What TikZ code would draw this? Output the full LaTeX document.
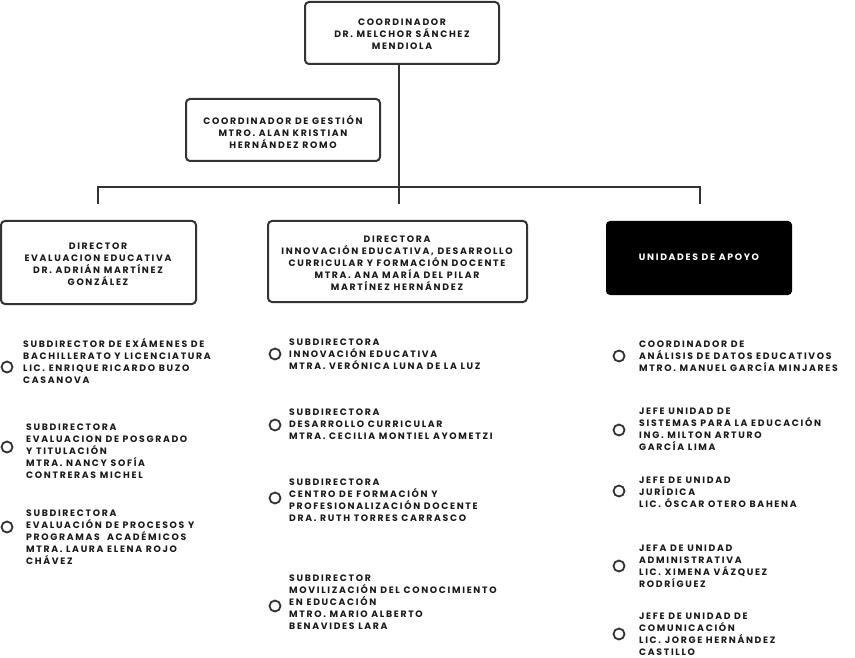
\documentclass[tikz,border=0pt]{standalone}
\usepackage{fontspec}
\setmainfont{Poppins}[LetterSpace=18]
\begin{document}
\begin{tikzpicture}[x=1pt,y=-1pt,
  box/.style={draw=black!80,line width=2pt,rounded corners=4pt},
  txt/.style={font=\bfseries\fontsize{9.3}{12}\selectfont,align=center,text=black!90},
  item/.style={font=\bfseries\fontsize{9.3}{12}\selectfont,align=left,anchor=north west,inner sep=0pt,text=black!90},
  dot/.style={draw=black!80,line width=1.8pt,circle,minimum size=11pt,inner sep=0pt},
  ln/.style={draw=black!80,line width=2pt}]
\useasboundingbox (0,0) rectangle (855,658);
\draw[box] (305,2) rectangle (499,64);
\node[txt] (top) at (402,34) {COORDINADOR\\DR. MELCHOR SÁNCHEZ\\MENDIOLA};
\draw[box] (186,99) rectangle (380,161);
\node[txt] (ges) at (283,132) {COORDINADOR DE GESTIÓN\\MTRO. ALAN KRISTIAN\\HERNÁNDEZ ROMO};
\draw[box] (1,221) rectangle (196,304);
\node[txt] (d1) at (98,264) {DIRECTOR\\EVALUACION EDUCATIVA\\DR. ADRIÁN MARTÍNEZ\\GONZÁLEZ};
\draw[box] (268,221) rectangle (527,302);
\node[txt] (d2) at (397,263) {DIRECTORA\\INNOVACIÓN EDUCATIVA, DESARROLLO\\CURRICULAR Y FORMACIÓN DOCENTE\\MTRA. ANA MARÍA DEL PILAR\\MARTÍNEZ HERNÁNDEZ};
\fill[black,rounded corners=4pt] (606,221) rectangle (792,295);
\node[txt,text=white] (d3) at (699,257) {UNIDADES DE APOYO};
\coordinate (j) at (399,187);
\draw[ln] (399,64) -- (j);
\draw[ln] (98,187) -- (700,187);
\draw[ln] (98,186) -- (98,204);
\draw[ln] (399,186) -- (399,204);
\draw[ln] (700,186) -- (700,204);
% left
\node[dot] (c1) at (7,367) {};
\node[item] (t1) at (23,338) {SUBDIRECTOR DE EXÁMENES DE\\BACHILLERATO Y LICENCIATURA\\LIC. ENRIQUE RICARDO BUZO\\CASANOVA};
\node[dot] (c2) at (7,447) {};
\node[item] (t2) at (26,424) {SUBDIRECTORA\\EVALUACION DE POSGRADO\\Y TITULACIÓN\\MTRA. NANCY SOFÍA\\CONTRERAS MICHEL};
\node[dot] (c3) at (7,527) {};
\node[item] (t3) at (26,510) {SUBDIRECTORA\\EVALUACIÓN DE PROCESOS Y\\PROGRAMAS\ \ ACADÉMICOS\\MTRA. LAURA ELENA ROJO\\CHÁVEZ};
% middle
\node[dot] (m1) at (275,354) {};
\node[item] (u1) at (289,339) {SUBDIRECTORA\\INNOVACIÓN EDUCATIVA\\MTRA. VERÓNICA LUNA DE LA LUZ};
\node[dot] (m2) at (275,425) {};
\node[item] (u2) at (289,409) {SUBDIRECTORA\\DESARROLLO CURRICULAR\\MTRA. CECILIA MONTIEL AYOMETZI};
\node[dot] (m3) at (275,498) {};
\node[item] (u3) at (289,479) {SUBDIRECTORA\\CENTRO DE FORMACIÓN Y\\PROFESIONALIZACIÓN DOCENTE\\DRA. RUTH TORRES CARRASCO};
\node[dot] (m4) at (275,606) {};
\node[item] (u4) at (289,575) {SUBDIRECTOR\\MOVILIZACIÓN DEL CONOCIMIENTO\\EN EDUCACIÓN\\MTRO. MARIO ALBERTO\\BENAVIDES LARA};
% right
\node[dot] (r1) at (619,356) {};
\node[item] (v1) at (639,341) {COORDINADOR DE\\ANÁLISIS DE DATOS EDUCATIVOS\\MTRO. MANUEL GARCÍA MINJARES};
\node[dot] (r2) at (619,430) {};
\node[item] (v2) at (639,408) {JEFE UNIDAD DE\\SISTEMAS PARA LA EDUCACIÓN\\ING. MILTON ARTURO\\GARCÍA LIMA};
\node[dot] (r3) at (619,491) {};
\node[item] (v3) at (639,477) {JEFE DE UNIDAD\\JURÍDICA\\LIC. ÓSCAR OTERO BAHENA};
\node[dot] (r4) at (619,566) {};
\node[item] (v4) at (639,545) {JEFA DE UNIDAD\\ADMINISTRATIVA\\LIC. XIMENA VÁZQUEZ\\RODRÍGUEZ};
\node[dot] (r5) at (619,634) {};
\node[item] (v5) at (639,613) {JEFE DE UNIDAD DE\\COMUNICACIÓN\\LIC. JORGE HERNÁNDEZ\\CASTILLO};
\end{tikzpicture}
\end{document}
